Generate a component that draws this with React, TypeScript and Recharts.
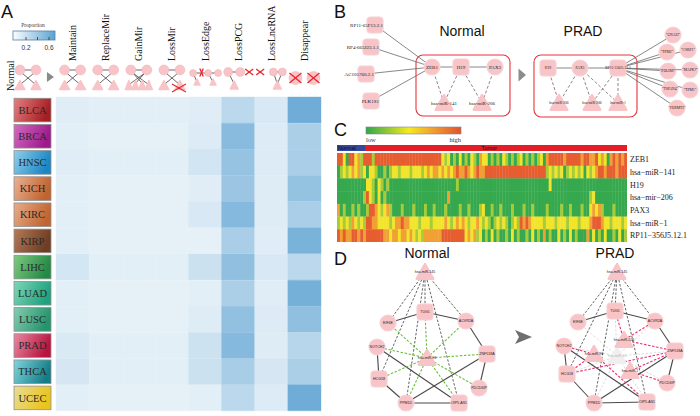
import React from "react";
import { BarChart, Bar, XAxis, YAxis, Cell, ScatterChart, Scatter, ReferenceArea } from "recharts";

const SERIF = "'Liberation Serif', 'DejaVu Serif', serif";
const SANS = "'Liberation Sans', Arial, sans-serif";

// ---------------- Panel A data ----------------
const cancers = ["BLCA", "BRCA", "HNSC", "KICH", "KIRC", "KIRP", "LIHC", "LUAD", "LUSC", "PRAD", "THCA", "UCEC"];
const patterns = ["Maintain", "ReplaceMir", "GainMir", "LossMir", "LossEdge", "LossPCG", "LossLncRNA", "Disappear"];
const maintain = [0.08, 0.07, 0.08, 0.07, 0.07, 0.07, 0.14, 0.07, 0.07, 0.11, 0.13, 0.07];
const replaceMir = [0.07, 0.06, 0.07, 0.06, 0.06, 0.06, 0.07, 0.06, 0.06, 0.07, 0.07, 0.06];
const gainMir = [0.07, 0.06, 0.07, 0.06, 0.06, 0.06, 0.07, 0.06, 0.06, 0.07, 0.07, 0.06];
const lossMir = [0.07, 0.06, 0.07, 0.06, 0.06, 0.06, 0.07, 0.06, 0.06, 0.07, 0.07, 0.06];
const lossEdge = [0.08, 0.1, 0.15, 0.08, 0.12, 0.06, 0.18, 0.07, 0.09, 0.17, 0.18, 0.07];
const lossPCG = [0.25, 0.48, 0.42, 0.4, 0.5, 0.33, 0.45, 0.32, 0.44, 0.5, 0.34, 0.25];
const lossLncRNA = [0.12, 0.1, 0.1, 0.09, 0.09, 0.08, 0.12, 0.08, 0.1, 0.09, 0.13, 0.1];
const disappear = [0.6, 0.32, 0.33, 0.43, 0.33, 0.55, 0.25, 0.57, 0.45, 0.27, 0.32, 0.6];
const patternValues = [maintain, replaceMir, gainMir, lossMir, lossEdge, lossPCG, lossLncRNA, disappear];
const cancerLight = ["#e68080", "#d36bbf", "#8fd0ea", "#eab394", "#e8ad8d", "#b57a58", "#7fcb7f", "#7fd6b8", "#86cdb3", "#e98aa3", "#7fd5de", "#eadc96"];
const cancerDark = ["#a41f24", "#9c1a8c", "#1b86c4", "#c0632f", "#c06530", "#6e3d22", "#238a46", "#1fa37e", "#24946c", "#b8143f", "#157d88", "#e8c41c"];
const propTicks = ["0.2", "0.6"];

// ---------------- Panel C data ----------------
const hmRowLabels = ["ZEB1", "hsa\u2212miR\u2212141", "H19", "hsa\u2212mir\u2212206", "PAX3", "hsa\u2212miR\u22121", "RP11\u2212356J5.12.1"];
const zeb1Lv = ["4420442314", "4414444444", "4444444444", "4444442120", "1020102103", "2201010210", "1012010101", "2034444434", "4444344334", "2320343434"].join("");
const mir141Lv = ["0121232312", "0221001012", "2122212221", "2323323232", "3433432343", "3444444444", "4444444444", "4412121201", "2121202123", "4434443444"].join("");
const h19Lv = ["0000000000", "2210210100", "0000000000", "0000000000", "0100000000", "0000000000", "0000000000", "0002000000", "0000000000", "0000000000"].join("");
const mir206Lv = ["0000000001", "4210201000", "0000000000", "0000000030", "0000000000", "0000000000", "0000000000", "0000000000", "0000000120", "0000000000"].join("");
const pax3Lv = ["3010010100", "1443212310", "0010001000", "1001000100", "0010010001", "2001001000", "1000100100", "0010000100", "1000100232", "3100010000"].join("");
const mir1Lv = ["1212132121", "4433222212", "3343322212", "2212222321", "2323212232", "1210121210", "1214343222", "2122212221", "2221222344", "4322122212"].join("");
const rp11Lv = ["4343344343", "4444443323", "3233232121", "3333334444", "4444232312", "0102010010", "2010010201", "0301002010", "2010003020", "1020010201"].join("");
const hmLevels = [zeb1Lv, mir141Lv, h19Lv, mir206Lv, pax3Lv, mir1Lv, rp11Lv];
const levelColors = ["#36a84e", "#a7cc3a", "#f2e42a", "#f1a033", "#e65e30"];

// ---------------- Panel B / D network data ----------------
type NodeT = { id: string; label: string; kind: string; x: number; y: number };
const bNormalNodes: NodeT[] = [
  { id: "rp11a", label: "RP11-65F13.2.1", kind: "s", x: 375, y: 25 },
  { id: "rp4", label: "RP4-665J23.1.1", kind: "s", x: 371, y: 47 },
  { id: "ac", label: "AC105760.2.1", kind: "s", x: 366, y: 74 },
  { id: "plk", label: "PLK1S1", kind: "s", x: 371, y: 101 },
  { id: "zeb1", label: "ZEB1", kind: "c", x: 432, y: 67 },
  { id: "h19", label: "H19", kind: "s", x: 461, y: 67 },
  { id: "pax3", label: "PAX3", kind: "c", x: 495, y: 67 },
  { id: "m141", label: "hsa-miR-141", kind: "t", x: 444, y: 103 },
  { id: "m206", label: "hsa-miR-206", kind: "t", x: 482, y: 103 },
];
const bPradNodes: NodeT[] = [
  { id: "ph19", label: "H19", kind: "s", x: 548, y: 68 },
  { id: "ppax3", label: "PAX3", kind: "c", x: 580, y: 68 },
  { id: "prp11", label: "RP11-356J5.12.1", kind: "s", x: 618, y: 68 },
  { id: "pm206a", label: "hsa-miR-206", kind: "t", x: 559, y: 103 },
  { id: "pm206b", label: "hsa-miR-206", kind: "t", x: 592, y: 103 },
  { id: "pm1", label: "hsa-miR-1", kind: "t", x: 618, y: 103 },
  { id: "gnai2", label: "\"GNAI2\"", kind: "c", x: 673, y: 35 },
  { id: "tpm2", label: "\"TPM2\"", kind: "c", x: 667, y: 52 },
  { id: "csrp1", label: "\"CSRP1\"", kind: "c", x: 688, y: 50 },
  { id: "pdlim7", label: "\"PDLIM7\"", kind: "c", x: 668, y: 71 },
  { id: "mapk7", label: "\"MAPK7\"", kind: "c", x: 690, y: 70 },
  { id: "tspan4", label: "\"TSPAN4\"", kind: "c", x: 670, y: 89 },
  { id: "tpm1", label: "\"TPM1\"", kind: "c", x: 690, y: 90 },
  { id: "fermt2", label: "\"FERMT2\"", kind: "c", x: 677, y: 108 },
];
const dNormalNodes: NodeT[] = [
  { id: "m145", label: "hsa-miR-145", kind: "t", x: 425, y: 272 },
  { id: "tug1", label: "TUG1", kind: "s", x: 425, y: 312 },
  { id: "eif4e", label: "EIF4E", kind: "c", x: 388, y: 323 },
  { id: "acvr2a", label: "ACVR2A", kind: "c", x: 466, y: 321 },
  { id: "notch2", label: "NOTCH2", kind: "c", x: 377, y: 347 },
  { id: "znf", label: "ZNF518A", kind: "s", x: 487, y: 354 },
  { id: "m96", label: "hsa-miR-96", kind: "t", x: 427, y: 358 },
  { id: "hcg18", label: "HCG18", kind: "s", x: 379, y: 379 },
  { id: "pdcd", label: "PDCD6IP", kind: "c", x: 479, y: 388 },
  { id: "ppm1d", label: "PPM1D", kind: "c", x: 406, y: 403 },
  { id: "oip5", label: "OIP5-AS1", kind: "s", x: 459, y: 403 },
];
const dPradNodes: NodeT[] = [
  { id: "p10", label: "hsa-miR-10", kind: "ft", x: 617, y: 356 },
  { id: "p145", label: "hsa-miR-145", kind: "t", x: 617, y: 272 },
  { id: "ptug1", label: "TUG1", kind: "s", x: 615, y: 311 },
  { id: "peif4e", label: "EIF4E", kind: "c", x: 578, y: 322 },
  { id: "pacvr2a", label: "ACVR2A", kind: "c", x: 655, y: 321 },
  { id: "p206", label: "hsa-miR-206", kind: "t", x: 624, y: 340 },
  { id: "pnotch2", label: "NOTCH2", kind: "c", x: 564, y: 346 },
  { id: "pznf", label: "ZNF518A", kind: "s", x: 675, y: 351 },
  { id: "p96", label: "hsa-miR-96", kind: "t", x: 594, y: 354 },
  { id: "p1", label: "hsa-miR-1", kind: "t", x: 630, y: 371 },
  { id: "phcg18", label: "HCG18", kind: "s", x: 567, y: 374 },
  { id: "ppdcd", label: "PDCD6IP", kind: "c", x: 667, y: 383 },
  { id: "pppm1d", label: "PPM1D", kind: "c", x: 594, y: 403 },
  { id: "poip5", label: "OIP5-AS1", kind: "s", x: 647, y: 402 },
];
const arrowNodes: NodeT[] = [
  { id: "arrB", label: "", kind: "a", x: 522, y: 75 },
  { id: "arrD", label: "", kind: "ch", x: 523, y: 337 },
];
const bBoxes = [
  { x1: 416, x2: 510, y1: 55, y2: 116 },
  { x1: 534, x2: 637, y1: 55, y2: 117 },
];
const bSolid = [["rp11a", "zeb1"], ["rp4", "zeb1"], ["ac", "zeb1"], ["plk", "zeb1"], ["zeb1", "h19"], ["h19", "pax3"], ["ph19", "ppax3"], ["ppax3", "prp11"], ["prp11", "gnai2"], ["prp11", "tpm2"], ["prp11", "csrp1"], ["prp11", "pdlim7"], ["prp11", "mapk7"], ["prp11", "tspan4"], ["prp11", "tpm1"], ["prp11", "fermt2"]];
const bDash = [["zeb1", "m141"], ["h19", "m141"], ["h19", "m206"], ["pax3", "m206"], ["ph19", "pm206a"], ["ppax3", "pm206a"], ["ppax3", "pm206b"], ["ppax3", "pm1"], ["prp11", "pm206b"], ["prp11", "pm1"]];
const dSolid = [["eif4e", "tug1"], ["tug1", "acvr2a"], ["acvr2a", "znf"], ["znf", "pdcd"], ["znf", "ppm1d"], ["ppm1d", "oip5"], ["notch2", "hcg18"], ["hcg18", "ppm1d"], ["notch2", "oip5"],
  ["peif4e", "ptug1"], ["ptug1", "pacvr2a"], ["pacvr2a", "pznf"], ["pznf", "ppdcd"], ["pznf", "pppm1d"], ["pppm1d", "poip5"], ["pnotch2", "phcg18"], ["phcg18", "pppm1d"], ["pnotch2", "poip5"]];
const dDash = [["m145", "eif4e"], ["m145", "hcg18"], ["m145", "ppm1d"], ["m145", "tug1"], ["m145", "oip5"], ["m145", "acvr2a"],
  ["p145", "peif4e"], ["p145", "phcg18"], ["p145", "pppm1d"], ["p145", "ptug1"], ["p145", "poip5"], ["p145", "pacvr2a"]];
const dGreen = [["m96", "tug1"], ["m96", "acvr2a"], ["m96", "eif4e"], ["m96", "notch2"], ["m96", "znf"], ["m96", "hcg18"], ["m96", "ppm1d"], ["m96", "oip5"], ["m96", "pdcd"]];
const dPink = [["ptug1", "p206"], ["pacvr2a", "p206"], ["p206", "pznf"], ["pnotch2", "p96"], ["p96", "phcg18"], ["p96", "poip5"], ["pznf", "p1"], ["p1", "ppdcd"], ["pznf", "phcg18"]];
const dFaded = [["p10", "ptug1"], ["p10", "pnotch2"], ["p10", "pznf"], ["p10", "phcg18"], ["p10", "pppm1d"], ["p10", "poip5"], ["p10", "pacvr2a"], ["p10", "peif4e"], ["p10", "ppdcd"]];
const leftAnchored = new Set(["rp11a", "rp4", "ac", "plk"]);

// ---------------- helpers ----------------
const PINK = "#f8c4c7";
const PINK_EDGE = "#f6d2d4";

function heatColor(v: number) {
  const t = Math.max(0, Math.min(1, (v - 0.05) / 0.6));
  return `rgb(${Math.round(231 - 131 * t)},${Math.round(241 - 75 * t)},${Math.round(248 - 36 * t)})`;
}

const heatRows = cancers.map((name) => {
  const row: any = { name };
  patterns.forEach((_, c) => (row[`k${c}`] = 1));
  return row;
});

const hmPoints = hmLevels.flatMap((s, r) => s.split("").map((ch, i) => ({ x: i + 0.5, y: r + 0.5, v: Number(ch) })));
const HM_W = 290, HM_H = 89, HM_COLS = 100;
const CW = HM_W / HM_COLS, RH = HM_H / hmLevels.length;

const allNodes = [...bNormalNodes, ...bPradNodes, ...dNormalNodes, ...dPradNodes];
const nodeIndex: Record<string, NodeT> = Object.fromEntries(allNodes.map((n) => [n.id, n]));

// mini icons for panel A
const MC = (x: number, y: number, r: number) => <circle cx={x} cy={y} r={r} fill={PINK} stroke="#f2aeb2" strokeWidth={0.5} />;
const MT = (x: number, y: number, w: number, h: number) => (
  <path d={`M${x},${y - h / 2}L${x + w / 2},${y + h / 2}L${x - w / 2},${y + h / 2}Z`} fill={PINK} stroke={PINK} strokeWidth={1.4} strokeLinejoin="round" />
);
const ML = (x1: number, y1: number, x2: number, y2: number) => <line x1={x1} y1={y1} x2={x2} y2={y2} stroke="#444" strokeWidth={0.8} />;
const MX = (x: number, y: number, w: number, h: number) => (
  <g stroke="#e8262c" strokeWidth={1.3}>
    <line x1={x - w / 2} y1={y - h / 2} x2={x + w / 2} y2={y + h / 2} />
    <line x1={x + w / 2} y1={y - h / 2} x2={x - w / 2} y2={y + h / 2} />
  </g>
);
const fullIcon = (cx: number) => (
  <g>
    {ML(cx - 8, 70, cx + 8, 70)}
    {ML(cx - 6, 73, cx + 7, 84)}
    {ML(cx + 6, 73, cx - 7, 84)}
    {MC(cx - 8, 70, 5)}
    {MC(cx + 8, 70, 5)}
    {MT(cx - 8, 85, 10, 9)}
    {MT(cx + 8, 85, 10, 9)}
  </g>
);
function miniIcon(kind: number, cx: number) {
  switch (kind) {
    case 0:
    case 1:
      return fullIcon(cx);
    case 2:
      return (
        <g>
          {ML(cx - 8, 70, cx + 8, 70)}
          {ML(cx - 6, 73, cx + 4, 84)}
          {ML(cx + 6, 73, cx - 4, 84)}
          {ML(cx - 6, 73, cx + 9, 84)}
          {ML(cx + 6, 73, cx - 9, 84)}
          {MC(cx - 8, 70, 5)}
          {MC(cx + 8, 70, 5)}
          {MT(cx - 10, 85, 7, 9)}
          {MT(cx - 3.4, 85, 7, 9)}
          {MT(cx + 3.4, 85, 7, 9)}
          {MT(cx + 10, 85, 7, 9)}
        </g>
      );
    case 3:
      return (
        <g>
          {fullIcon(cx)}
          {MX(cx + 7, 88, 14, 8)}
        </g>
      );
    case 4:
      return (
        <g>
          {ML(cx - 12, 73, cx + 13, 73)}
          {ML(cx - 12, 73, cx - 8, 82)}
          {ML(cx + 3, 73, cx + 8, 82)}
          {MC(cx - 12, 73, 3.5)}
          {MC(cx + 3, 73, 3.5)}
          {MC(cx + 13, 73, 3.5)}
          {MT(cx - 8, 82, 6, 6)}
          {MT(cx + 8, 82, 6, 6)}
          {MX(cx - 3.5, 72.5, 3.5, 8)}
        </g>
      );
    case 5:
      return (
        <g>
          {ML(cx - 10, 72, cx + 2, 72)}
          {ML(cx - 10, 72, cx - 4, 84)}
          {MC(cx - 10, 72, 4.5)}
          {MC(cx + 2, 72, 4.5)}
          {MT(cx - 4, 85, 8, 8)}
          {MX(cx + 11, 72, 8, 6)}
          {MX(cx + 22, 72, 8, 6)}
        </g>
      );
    case 6:
      return (
        <g>
          {ML(cx + 2, 72, cx + 11, 72)}
          {ML(cx + 2, 72, cx + 6, 84)}
          {ML(cx + 11, 72, cx + 6, 84)}
          {MC(cx + 2, 72, 4)}
          {MC(cx + 11, 72, 4)}
          {MT(cx + 6, 85, 8, 8)}
        </g>
      );
    default:
      return (
        <g>
          {MC(cx - 9, 78, 6.5)}
          {MC(cx + 9, 78, 6.5)}
          {MX(cx - 9, 78, 12, 10)}
          {MX(cx + 9, 78, 12, 10)}
        </g>
      );
  }
}

const HeaderTick = (props: any) => {
  const { x, payload } = props;
  const idx = Math.floor(payload.value);
  return (
    <g>
      <text transform={`translate(${x + 3.5},61) rotate(-90)`} fontFamily={SERIF} fontSize={10} fill="#111">
        {patterns[idx]}
      </text>
      {miniIcon(idx, x)}
      {idx === 0 && (
        <g>
          <text transform={`translate(${x - 59},91) rotate(-90)`} fontFamily={SERIF} fontSize={10} fill="#111">
            Normal
          </text>
          {fullIcon(x - 44.6)}
          <path d={`M${x - 25.6},${x > 0 ? 72 : 72}L${x - 18.6},77L${x - 25.6},82Z`} fill="#8a8a8a" />
        </g>
      )}
    </g>
  );
};

const RowTick = (props: any) => {
  const { y, payload, index } = props;
  const i = cancers.indexOf(payload.value);
  return (
    <g>
      <rect x={14} y={y - 11.8} width={37} height={23.6} fill={`url(#cg${i >= 0 ? i : index})`} stroke="#8f8f8f" strokeWidth={0.8} />
      <text x={32.5} y={y + 3.6} textAnchor="middle" fontFamily={SERIF} fontSize={10.5} fill="#2a2a2a">
        {payload.value}
      </text>
    </g>
  );
};

const cellShape = (p: any) => (
  <rect x={p.cx - CW / 2} y={p.cy - RH / 2} width={CW + 0.35} height={RH + 0.3} fill={levelColors[p.payload.v]} />
);

const makeNodeShape = (fs: number, font: string, size: number) => (p: any) => {
  const { cx, cy, payload } = p;
  const s = size;
  let body: any = null;
  if (payload.kind === "c") body = <circle cx={cx} cy={cy} r={s / 2} fill={PINK} stroke={PINK_EDGE} strokeWidth={1.2} />;
  else if (payload.kind === "s")
    body = <rect x={cx - s / 2} y={cy - s / 2} width={s} height={s} rx={s * 0.22} fill={PINK} stroke={PINK_EDGE} strokeWidth={1.2} />;
  else if (payload.kind === "t" || payload.kind === "ft") {
    const col = payload.kind === "t" ? PINK : "#efefef";
    body = (
      <path
        d={`M${cx},${cy - s * 0.5}L${cx + s * 0.52},${cy + s * 0.42}L${cx - s * 0.52},${cy + s * 0.42}Z`}
        fill={col}
        stroke={col}
        strokeWidth={2.4}
        strokeLinejoin="round"
      />
    );
  } else if (payload.kind === "a") body = <path d={`M${cx - 3.5},${cy - 6.5}L${cx + 4},${cy}L${cx - 3.5},${cy + 6.5}Z`} fill="#8c8c8c" />;
  else if (payload.kind === "ch")
    body = <path d={`M${cx - 8},${cy - 7}L${cx + 9},${cy}L${cx - 8},${cy + 7}L${cx - 4},${cy}Z`} fill="#6f6f6f" />;
  const end = leftAnchored.has(payload.id);
  return (
    <g>
      {body}
      {payload.label ? (
        <text
          x={end ? cx + s / 2 : cx}
          y={cy + fs * 0.35}
          textAnchor={end ? "end" : "middle"}
          fontSize={fs}
          fontFamily={font}
          fill={payload.kind === "ft" ? "#b5b5b5" : "#222"}
        >
          {payload.label}
        </text>
      ) : null}
    </g>
  );
};

const emptyShape = () => <g />;

function edgeSeries(list: string[][], style: any, prefix: string) {
  return list.map(([a, b], i) => (
    <Scatter
      key={`${prefix}${i}`}
      data={[nodeIndex[a], nodeIndex[b]]}
      line={style}
      fill={style.stroke}
      shape={emptyShape}
      legendType="none"
      isAnimationActive={false}
    />
  ));
}

const S_B = { stroke: "#6a6a6a", strokeWidth: 0.8 };
const D_B = { stroke: "#6a6a6a", strokeWidth: 0.8, strokeDasharray: "3 2" };
const S_D = { stroke: "#4a4a4a", strokeWidth: 1.1 };
const D_D = { stroke: "#555", strokeWidth: 0.9, strokeDasharray: "2.5 1.6" };
const G_D = { stroke: "#6cbf3a", strokeWidth: 1.1, strokeDasharray: "2.5 1.6" };
const P_D = { stroke: "#e8306f", strokeWidth: 1.1, strokeDasharray: "2.5 1.6" };
const F_D = { stroke: "#d9d9d9", strokeWidth: 0.9, strokeDasharray: "2.5 1.6" };

export default function App() {
  const rowY = (r: number) => 153 + RH * (r + 0.5);
  return (
    <div style={{ position: "absolute", left: 0, top: 0, width: 700, height: 416, background: "#fff", overflow: "hidden" }}>
      <svg width={700} height={416} style={{ position: "absolute", left: 0, top: 0 }}>
        <defs>
          <linearGradient id="propGrad" x1="0" x2="1" y1="0" y2="0">
            <stop offset="0" stopColor="#fbfdff" />
            <stop offset="1" stopColor="#5aa3d0" />
          </linearGradient>
          <linearGradient id="lohiGrad" x1="0" x2="1" y1="0" y2="0">
            <stop offset="0" stopColor="#2ea84c" />
            <stop offset="0.45" stopColor="#f5ea1e" />
            <stop offset="0.7" stopColor="#f0a032" />
            <stop offset="1" stopColor="#e0532c" />
          </linearGradient>
          {cancers.map((c, i) => (
            <linearGradient key={c} id={`cg${i}`} x1="0" x2="1" y1="0" y2="0.3">
              <stop offset="0" stopColor={cancerLight[i]} />
              <stop offset="1" stopColor={cancerDark[i]} />
            </linearGradient>
          ))}
        </defs>
        {/* panel letters */}
        <text x={1} y={18} fontFamily={SANS} fontSize={18} fill="#111">A</text>
        <text x={334} y={18} fontFamily={SANS} fontSize={18} fill="#111">B</text>
        <text x={334} y={136} fontFamily={SANS} fontSize={18} fill="#111">C</text>
        <text x={334} y={265} fontFamily={SANS} fontSize={18} fill="#111">D</text>
        {/* titles */}
        <text x={462} y={36} textAnchor="middle" fontFamily={SANS} fontSize={14} fill="#111">Normal</text>
        <text x={583} y={36} textAnchor="middle" fontFamily={SANS} fontSize={14} fill="#111">PRAD</text>
        <text x={427} y={258} textAnchor="middle" fontFamily={SANS} fontSize={14} fill="#111">Normal</text>
        <text x={615} y={258} textAnchor="middle" fontFamily={SANS} fontSize={14} fill="#111">PRAD</text>
        {/* A legend */}
        <text x={33} y={27} textAnchor="middle" fontFamily={SERIF} fontSize={5.5} fill="#333">Proportion</text>
        <rect x={13} y={31} width={42} height={9} fill="url(#propGrad)" stroke="#5b7fa6" strokeWidth={0.8} />
        {[26, 37.5, 49].map((tx) => (
          <line key={tx} x1={tx} x2={tx} y1={37} y2={40} stroke="#333" strokeWidth={0.8} />
        ))}
        <text x={26} y={50} textAnchor="middle" fontFamily={SANS} fontSize={6.5} fill="#333">{propTicks[0]}</text>
        <text x={49} y={50} textAnchor="middle" fontFamily={SANS} fontSize={6.5} fill="#333">{propTicks[1]}</text>
        {/* C legend */}
        <rect x={366} y={127} width={95} height={7} fill="url(#lohiGrad)" stroke="#888" strokeWidth={0.6} />
        <text x={366} y={142} fontFamily={SERIF} fontSize={6.5} fill="#333">low</text>
        <text x={461} y={142} textAnchor="end" fontFamily={SERIF} fontSize={6.5} fill="#333">high</text>
        <rect x={337} y={145} width={28} height={6} fill="#34489b" />
        <rect x={365} y={145} width={262} height={6} fill="#e41e26" />
        <text x={338} y={150.3} fontFamily={SANS} fontSize={5.5} fill="#0a0a30">Normal</text>
        <text x={489} y={150.3} textAnchor="middle" fontFamily={SANS} fontSize={5.5} fill="#111">Tumor</text>
        {hmRowLabels.map((l, r) => (
          <text key={l} x={630} y={rowY(r) + 2.8} fontFamily={SERIF} fontSize={8} fill="#222">{l}</text>
        ))}
      </svg>

      {/* Panel A heatmap */}
      <div style={{ position: "absolute", left: 0, top: 0 }}>
        <BarChart width={330} height={416} data={heatRows} layout="vertical" margin={{ top: 0, right: 9, bottom: 5, left: 0 }} barCategoryGap={0} barGap={0}>
          <XAxis
            type="number"
            domain={[0, 8]}
            orientation="top"
            height={97}
            ticks={[0.5, 1.5, 2.5, 3.5, 4.5, 5.5, 6.5, 7.5]}
            interval={0}
            axisLine={false}
            tickLine={false}
            tick={HeaderTick}
          />
          <YAxis type="category" dataKey="name" width={56} axisLine={false} tickLine={false} interval={0} tick={RowTick} />
          {patterns.map((p, c) => (
            <Bar key={p} dataKey={`k${c}`} stackId="a" isAnimationActive={false}>
              {cancers.map((cn, r) => (
                <Cell key={cn} fill={heatColor(patternValues[c][r])} stroke={heatColor(patternValues[c][r])} strokeWidth={0.4} />
              ))}
            </Bar>
          ))}
        </BarChart>
      </div>

      {/* Panel C heatmap */}
      <div style={{ position: "absolute", left: 337, top: 153 }}>
        <ScatterChart width={HM_W} height={HM_H} margin={{ top: 0, right: 0, bottom: 0, left: 0 }}>
          <XAxis type="number" dataKey="x" domain={[0, HM_COLS]} hide />
          <YAxis type="number" dataKey="y" domain={[0, hmLevels.length]} reversed hide />
          <Scatter data={hmPoints} shape={cellShape} isAnimationActive={false} />
        </ScatterChart>
      </div>

      {/* Panels B and D networks */}
      <div style={{ position: "absolute", left: 330, top: 0 }}>
        <ScatterChart width={370} height={416} margin={{ top: 0, right: 0, bottom: 0, left: 0 }}>
          <XAxis type="number" dataKey="x" domain={[330, 700]} hide />
          <YAxis type="number" dataKey="y" domain={[0, 416]} reversed hide />
          {bBoxes.map((b, i) => (
            <ReferenceArea
              key={`box${i}`}
              x1={b.x1}
              x2={b.x2}
              y1={b.y1}
              y2={b.y2}
              ifOverflow="visible"
              shape={(p: any) => <rect x={p.x} y={p.y} width={p.width} height={p.height} rx={7} fill="none" stroke="#e8333b" strokeWidth={1.1} />}
            />
          ))}
          {edgeSeries(dFaded, F_D, "ef")}
          {edgeSeries(bSolid, S_B, "bs")}
          {edgeSeries(bDash, D_B, "bd")}
          {edgeSeries(dSolid, S_D, "ds")}
          {edgeSeries(dDash, D_D, "dd")}
          {edgeSeries(dGreen, G_D, "dg")}
          {edgeSeries(dPink, P_D, "dp")}
          <Scatter data={bNormalNodes} shape={makeNodeShape(5, SERIF, 16)} isAnimationActive={false} />
          <Scatter data={bPradNodes} shape={makeNodeShape(3.7, SERIF, 16)} isAnimationActive={false} />
          <Scatter data={dNormalNodes} shape={makeNodeShape(3.6, SANS, 16)} isAnimationActive={false} />
          <Scatter data={dPradNodes} shape={makeNodeShape(3.6, SANS, 16)} isAnimationActive={false} />
          <Scatter data={arrowNodes} shape={makeNodeShape(4, SANS, 16)} isAnimationActive={false} />
        </ScatterChart>
      </div>
    </div>
  );
}
